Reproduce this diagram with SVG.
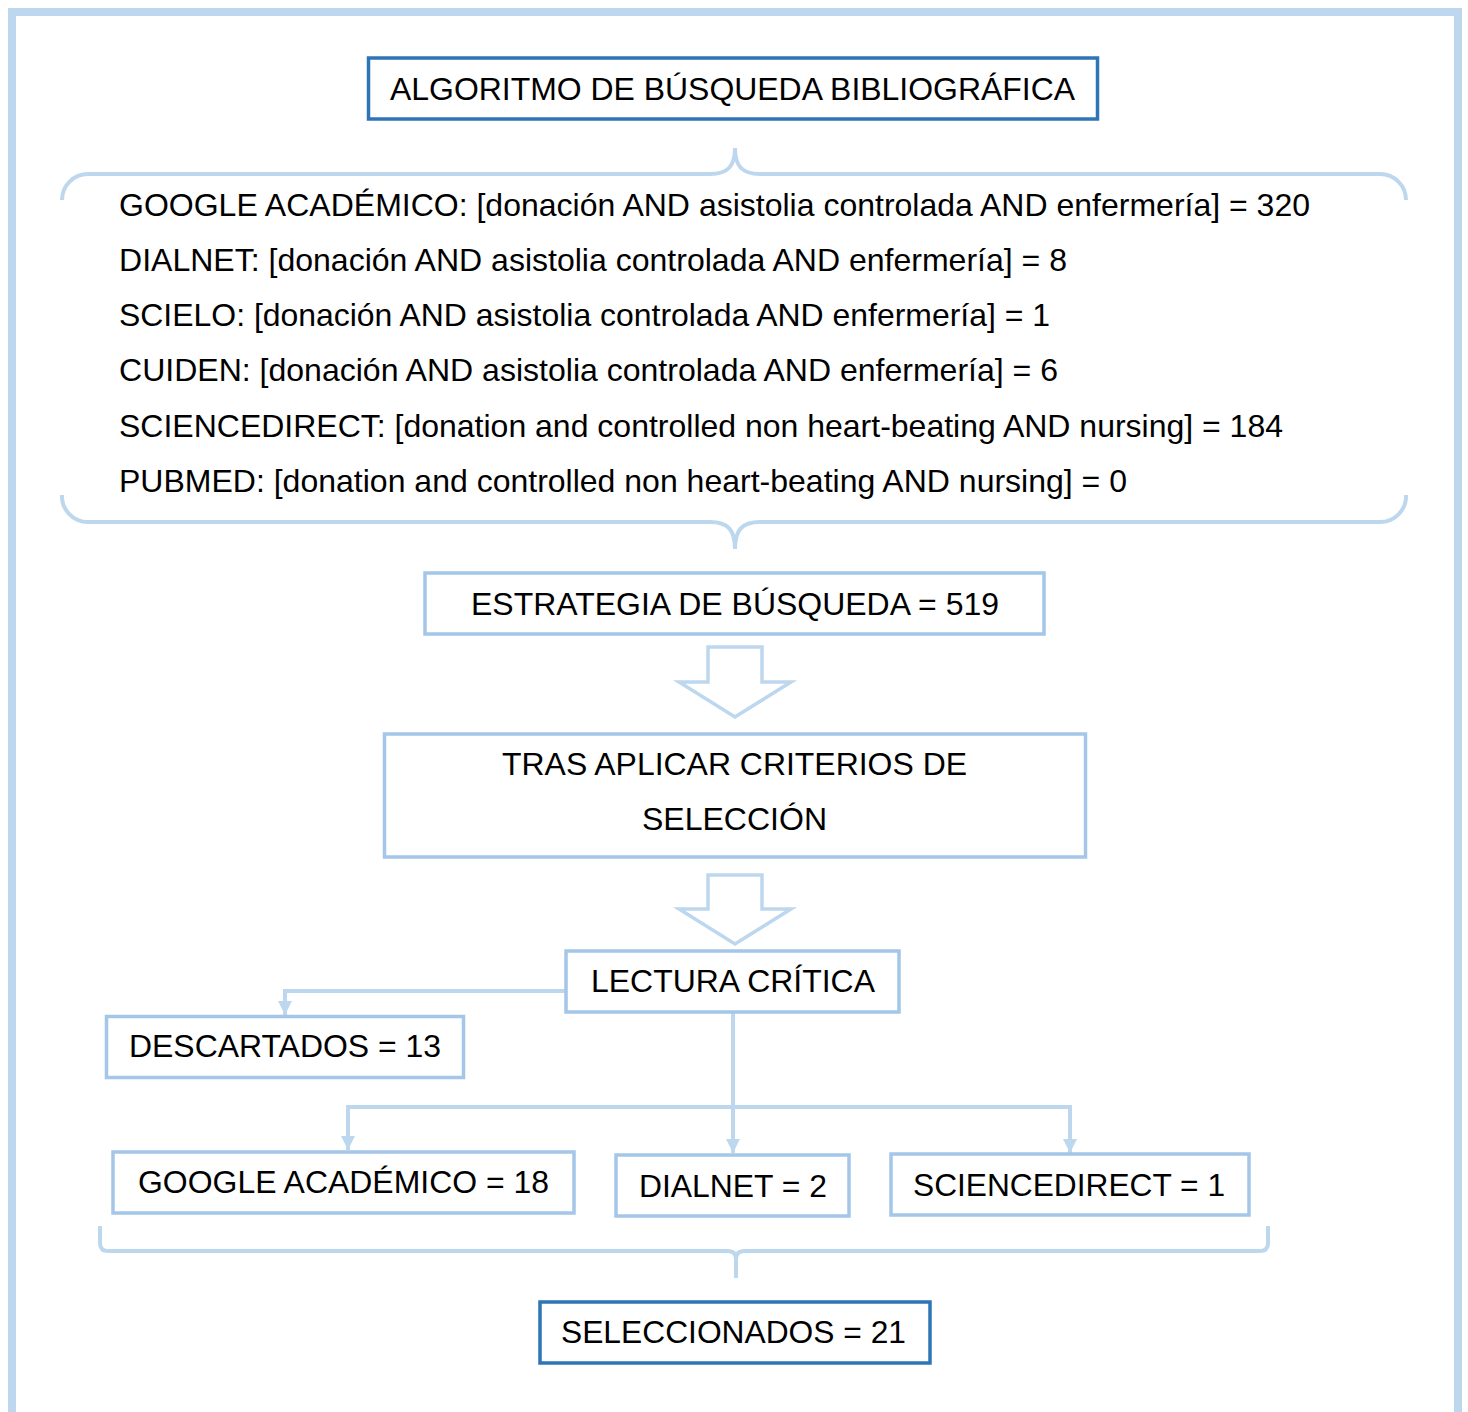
<svg xmlns="http://www.w3.org/2000/svg" width="1468" height="1412" viewBox="0 0 1468 1412">
<defs>
<style>
.t{font-family:"Liberation Sans",Arial,Helvetica,sans-serif;font-size:32px;fill:#000}
.c{text-anchor:middle}
.dk{fill:#fff;stroke:#2E75B6;stroke-width:3.5}
.lt{fill:#fff;stroke:#A4C6E9;stroke-width:3.5}
.br{fill:none;stroke:#BDD7EE;stroke-width:4;stroke-linecap:butt}
.cn{fill:none;stroke:#BDD7EE;stroke-width:4}
.ha{fill:#fff;stroke:#BDD7EE;stroke-width:3.5;stroke-linejoin:miter}
</style>
<marker id="ah" markerUnits="userSpaceOnUse" markerWidth="14" markerHeight="14" viewBox="0 0 14 14" refX="14" refY="7" orient="auto">
<path d="M0,0 L14,7 L0,14 Z" fill="#BDD7EE"/>
</marker>
</defs>
<rect width="1468" height="1412" fill="#fff"/>
<rect id="frame" x="12" y="12" width="1446" height="1440" fill="none" stroke="#BDD7EE" stroke-width="8"/>

<g id="braces">
<path class="br" d="M62,200 A26,26 0 0 1 88,174 L710,174 C728,174 735,166 735,148 C735,166 742,174 760,174 L1380,174 A26,26 0 0 1 1406,200"/>
<path class="br" d="M62,495 A26,26 0 0 0 88,522 L710,522 C728,522 735,530 735,549 C735,530 742,522 760,522 L1380,522 A26,26 0 0 0 1406,495"/>
<path class="br" d="M100,1226 L100,1243 Q100,1251 108,1251 L728,1251 Q736,1251 736,1259 L736,1278 M736,1259 Q736,1251 744,1251 L1260,1251 Q1268,1251 1268,1243 L1268,1226"/>
</g>

<g id="connectors">
<polygon class="ha" points="708,647 762,647 762,682 791,682 735,717 679,682 708,682"/>
<polygon class="ha" points="708,875 762,875 762,909 791,909 735,944 679,909 708,909"/>
<polyline class="cn" points="565,991 285,991 285,1015" marker-end="url(#ah)"/>
<polyline class="cn" points="733,1013 733,1153" marker-end="url(#ah)"/>
<polyline class="cn" points="733,1107 348,1107 348,1150" marker-end="url(#ah)"/>
<polyline class="cn" points="733,1107 1070,1107 1070,1153" marker-end="url(#ah)"/>
</g>

<g id="title">
<rect class="dk" x="368.5" y="58" width="729" height="61"/>
<text class="t" x="390" y="100" textLength="685" lengthAdjust="spacingAndGlyphs">ALGORITMO DE BÚSQUEDA BIBLIOGRÁFICA</text>
</g>

<g id="searches">
<text class="t" x="119" y="216" textLength="1191" lengthAdjust="spacingAndGlyphs">GOOGLE ACADÉMICO: [donación AND asistolia controlada AND enfermería] = 320</text>
<text class="t" x="119" y="271" textLength="948" lengthAdjust="spacingAndGlyphs">DIALNET: [donación AND asistolia controlada AND enfermería] = 8</text>
<text class="t" x="119" y="326" textLength="931" lengthAdjust="spacingAndGlyphs">SCIELO: [donación AND asistolia controlada AND enfermería] = 1</text>
<text class="t" x="119" y="381" textLength="939" lengthAdjust="spacingAndGlyphs">CUIDEN: [donación AND asistolia controlada AND enfermería] = 6</text>
<text class="t" x="119" y="437" textLength="1164" lengthAdjust="spacingAndGlyphs">SCIENCEDIRECT: [donation and controlled non heart-beating AND nursing] = 184</text>
<text class="t" x="119" y="492" textLength="1008" lengthAdjust="spacingAndGlyphs">PUBMED: [donation and controlled non heart-beating AND nursing] = 0</text>
</g>

<g id="estrategia">
<rect class="lt" x="425" y="573" width="619" height="61"/>
<text class="t" x="471" y="615" textLength="528" lengthAdjust="spacingAndGlyphs">ESTRATEGIA DE BÚSQUEDA = 519</text>
</g>

<g id="criterios">
<rect class="lt" x="384.5" y="734" width="701" height="123"/>
<text class="t" x="502" y="775" textLength="465" lengthAdjust="spacingAndGlyphs">TRAS APLICAR CRITERIOS DE</text>
<text class="t" x="642" y="830" textLength="185" lengthAdjust="spacingAndGlyphs">SELECCIÓN</text>
</g>

<g id="lectura">
<rect class="lt" x="566" y="951" width="333" height="61"/>
<text class="t" x="591" y="992" textLength="284" lengthAdjust="spacingAndGlyphs">LECTURA CRÍTICA</text>
</g>

<g id="descartados">
<rect class="lt" x="106.5" y="1016.5" width="357" height="61"/>
<text class="t" x="129" y="1057" textLength="312" lengthAdjust="spacingAndGlyphs">DESCARTADOS = 13</text>
</g>

<g id="google">
<rect class="lt" x="113" y="1152" width="461" height="61"/>
<text class="t" x="138" y="1193" textLength="411" lengthAdjust="spacingAndGlyphs">GOOGLE ACADÉMICO = 18</text>
</g>

<g id="dialnet">
<rect class="lt" x="616" y="1155" width="233" height="61"/>
<text class="t" x="639" y="1197" textLength="188" lengthAdjust="spacingAndGlyphs">DIALNET = 2</text>
</g>

<g id="sciencedirect">
<rect class="lt" x="891" y="1154" width="358" height="61"/>
<text class="t" x="913" y="1196" textLength="312" lengthAdjust="spacingAndGlyphs">SCIENCEDIRECT = 1</text>
</g>

<g id="seleccionados">
<rect class="dk" x="540" y="1302" width="390" height="61"/>
<text class="t" x="561" y="1343" textLength="345" lengthAdjust="spacingAndGlyphs">SELECCIONADOS = 21</text>
</g>
</svg>
